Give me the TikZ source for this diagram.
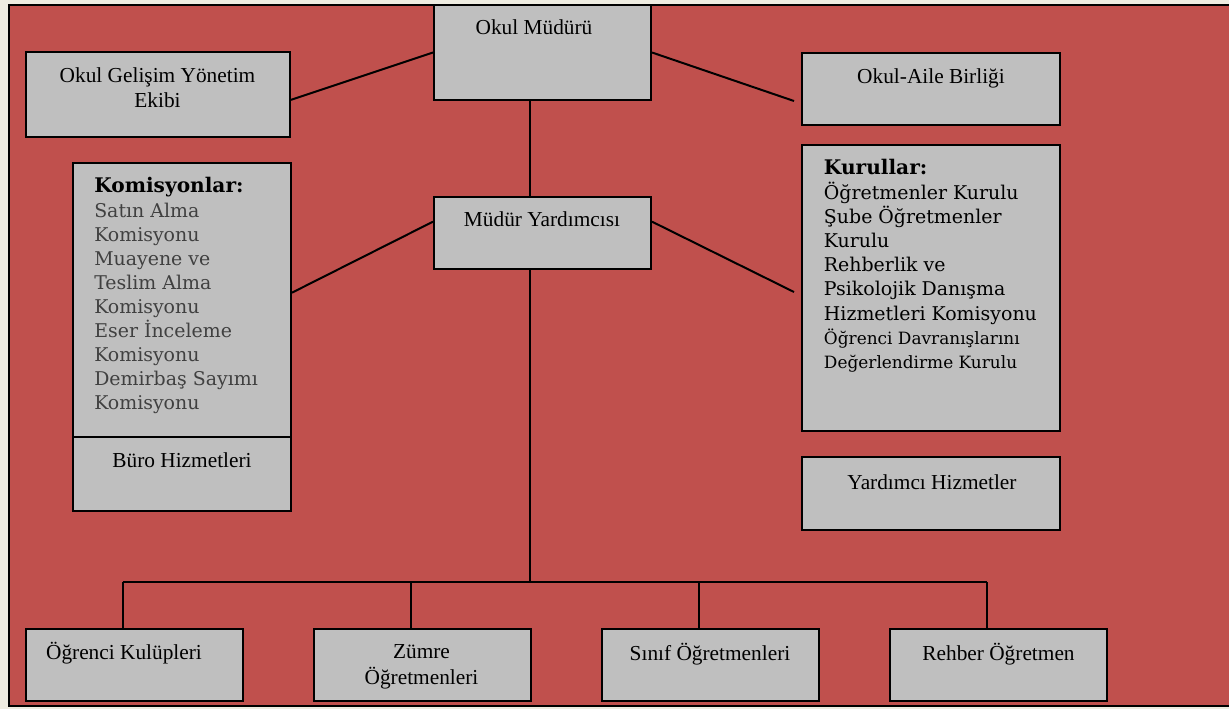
\documentclass[tikz,border=0pt]{standalone}
\usepackage{fontspec}
\setmainfont{Liberation Serif}
\newfontfamily\listfont{DejaVu Serif}
\usetikzlibrary{fit}

\definecolor{orgred}{HTML}{C0504D}
\definecolor{boxgray}{HTML}{BFBFBF}
\definecolor{pagetan}{HTML}{EEECE1}
\definecolor{itemgray}{HTML}{404040}

\begin{document}
\begin{tikzpicture}[x=0.75pt,y=-0.75pt,
		box/.style={draw=black, line width=1.5pt, fill=boxgray, inner sep=0pt},
		link/.style={line width=1.5pt},
		lbl/.style={font=\fontsize{16}{18}\selectfont, anchor=base, inner sep=0pt},
		head/.style={font=\listfont\bfseries\fontsize{15.1}{18}\selectfont, anchor=base west, inner sep=0pt},
		item/.style={font=\listfont\fontsize{14.2}{18}\selectfont, anchor=base west, inner sep=0pt},
		smallitem/.style={item, font=\listfont\fontsize{12.7}{18}\selectfont}]
		% page and frame
		\useasboundingbox (0,0) rectangle (1229,709);
		\fill[pagetan] (0,0) rectangle (1229,709);
		\fill[orgred] (9,5) rectangle (1229,706);
		\draw[link] (1229,5) -- (9,5) -- (9,706) -- (1229,706);
		% boxes, top part
		\node[box, fit={(434,5) (651,100)}] (mudur) {};
		\node[box, fit={(26,52) (290,137)}] (ekip) {};
		\node[box, fit={(802,53) (1060,125)}] (aile) {};
		\node[box, fit={(434,197) (651,269)}] (yard) {};
		\node[box, fit={(73,163) (291,437)}] (kom) {};
		\node[box, fit={(73,437) (291,511)}] (buro) {};
		\node[box, fit={(802,145) (1060,431)}] (kurul) {};
		\node[box, fit={(802,457) (1060,530)}] (yhiz) {};
		% boxes, bottom row
		\node[box, fit={(26,629) (243,701)}] (ogr) {};
		\node[box, fit={(314,629) (531,701)}] (zumre) {};
		\node[box, fit={(602,629) (819,701)}] (sinif) {};
		\node[box, fit={(890,629) (1107,701)}] (rehber) {};
		% labels
		\node[lbl] (mudur-t) at (534,35) {Okul Müdürü};
		\node[lbl] (ekip-t1) at (157.5,82.7) {Okul Gelişim Yönetim};
		\node[lbl] (ekip-t2) at (157.5,107.3) {Ekibi};
		\node[lbl] (aile-t) at (931,84) {Okul-Aile Birliği};
		\node[lbl] (yard-t) at (542,226.7) {Müdür Yardımcısı};
		\node[lbl] (buro-t) at (182,468) {Büro Hizmetleri};
		\node[lbl] (yhiz-t) at (932,489) {Yardımcı Hizmetler};
		\node[lbl] (ogr-t) at (124,659) {Öğrenci Kulüpleri};
		\node[lbl] (zumre-t1) at (421.5,658.5) {Zümre};
		\node[lbl] (zumre-t2) at (421.5,684) {Öğretmenleri};
		\node[lbl] (sinif-t) at (710,660) {Sınıf Öğretmenleri};
		\node[lbl] (rehber-t) at (998.5,660) {Rehber Öğretmen};
		% lists
		\node[head] (kom-h) at (94,193) {Komisyonlar:};
		\foreach \t [count=\i] in {Satın Alma, Komisyonu, Muayene ve, Teslim Alma, Komisyonu, Eser İnceleme, Komisyonu, Demirbaş Sayımı, Komisyonu}
			\node[item, text=itemgray] (kom-\i) at (94,193+24.07*\i) {\t};
		\node[head] (kurul-h) at (823.7,175) {Kurullar:};
		\foreach \t [count=\i] in {Öğretmenler Kurulu, Şube Öğretmenler, Kurulu, Rehberlik ve, Psikolojik Danışma, Hizmetleri Komisyonu}
			\node[item] (kurul-\i) at (823.7,175+24.2*\i) {\t};
		\node[smallitem] (kurul-7) at (823.7,344.4) {Öğrenci Davranışlarını};
		\node[smallitem] (kurul-8) at (823.7,368.8) {Değerlendirme Kurulu};
		% connectors
		\coordinate (aile-in) at (794,101);
		\coordinate (kurul-in) at (794,292);
		\coordinate (bus) at (530,582);
		\draw[link] (mudur.west) -- ([yshift=-4pt]ekip.east);
		\draw[link] (mudur.east) -- (aile-in);
		\draw[link] ([yshift=8.5pt]yard.west) -- ([yshift=5.5pt]kom.east);
		\draw[link] ([yshift=8.5pt]yard.east) -- (kurul-in);
		\draw[link] (mudur.south -| bus) -- (yard.north -| bus);
		\draw[link] (yard.south -| bus) -- (bus);
		\draw[link] ([xshift=-9pt]ogr.north |- bus) -- ([xshift=-9pt]rehber.north |- bus);
		\foreach \b in {ogr, zumre, sinif, rehber}
			\draw[link] ([xshift=-9pt]\b.north) -- ([xshift=-9pt]\b.north |- bus);
	\end{tikzpicture}
\end{document}
